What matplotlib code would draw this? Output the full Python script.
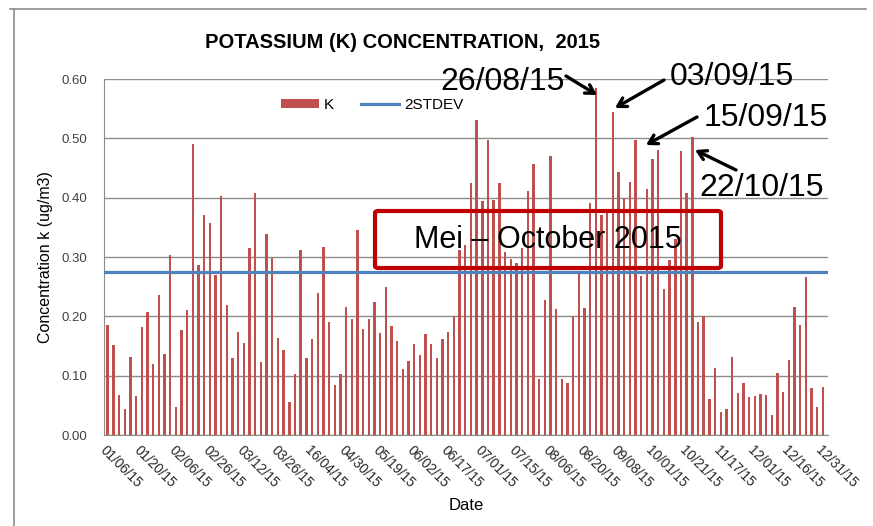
import matplotlib
matplotlib.use("Agg")
import matplotlib.pyplot as plt
from matplotlib.patches import FancyBboxPatch
from matplotlib.lines import Line2D
import numpy as np

plt.rcParams['font.family'] = ['Liberation Sans', 'DejaVu Sans']

# K concentration per sample (ug/m3)
k_values = [
    0.185, 0.152, 0.068, 0.043, 0.131, 0.065, 0.182, 0.208, 0.119, 0.236,
    0.136, 0.304, 0.048, 0.177, 0.210, 0.491, 0.287, 0.371, 0.357, 0.270,
    0.402, 0.219, 0.129, 0.173, 0.155,
    0.315, 0.408, 0.123, 0.339, 0.299, 0.164, 0.144, 0.056, 0.102, 0.311,
    0.130, 0.162, 0.239, 0.317, 0.191, 0.085, 0.103, 0.216, 0.196, 0.346,
    0.179, 0.195, 0.225, 0.172, 0.249,
    0.184, 0.159, 0.112, 0.125, 0.153, 0.134, 0.171, 0.154, 0.129, 0.161,
    0.173, 0.201, 0.311, 0.320, 0.424, 0.531, 0.394, 0.498, 0.396, 0.425,
    0.309, 0.296, 0.290, 0.315, 0.412,
    0.457, 0.095, 0.228, 0.471, 0.213, 0.095, 0.088, 0.201, 0.273, 0.214,
    0.391, 0.585, 0.370, 0.380, 0.544, 0.444, 0.400, 0.426, 0.497, 0.268,
    0.414, 0.466, 0.480, 0.246, 0.295,
    0.330, 0.478, 0.408, 0.503, 0.191, 0.200, 0.061, 0.113, 0.039, 0.043,
    0.131, 0.070, 0.087, 0.064, 0.065, 0.069, 0.068, 0.034, 0.104, 0.073,
    0.126, 0.216, 0.185, 0.267, 0.080, 0.048, 0.081,
]
stdev2 = 0.275

date_labels = ['01/06/15', '01/20/15', '02/06/15', '02/26/15', '03/12/15',
               '03/26/15', '16/04/15', '04/30/15', '05/19/15', '06/02/15',
               '06/17/15', '07/01/15', '07/15/15', '08/06/15', '08/20/15',
               '09/08/15', '10/01/15', '10/21/15', '11/17/15', '12/01/15',
               '12/16/15', '12/31/15']
label_step = 6

W, H = 873, 526


def fx(px):
    return px / W


def fy(py):
    return 1 - py / H


fig = plt.figure(figsize=(W / 100, H / 100), dpi=100)
ax = fig.add_axes([fx(104), fy(435), fx(828) - fx(104), fy(79) - fy(435)])

x = np.arange(len(k_values))
bars = ax.bar(x, k_values, width=0.42, color='#C0504D', label='K', zorder=2)
line = ax.axhline(stdev2, color='#4F81BD', lw=2.3, label='2STDEV', zorder=3)

ax.set_xlim(-0.65, len(k_values) - 0.1)
ax.set_ylim(0, 0.6)
ax.set_yticks(np.arange(0, 0.61, 0.1))
ax.set_yticklabels(['%.2f' % v for v in np.arange(0, 0.61, 0.1)],
                   fontsize=9.5, color='#404040')
ax.yaxis.grid(True, color='#8C8C8C', lw=1, zorder=0)
ax.tick_params(axis='y', length=0, pad=12)

ticks = np.arange(0, len(k_values), label_step)
ax.set_xticks(ticks)
ax.set_xticklabels(date_labels, rotation=-45, ha='left', va='top',
                   rotation_mode='anchor', fontsize=9.8, color='#262626')
ax.tick_params(axis='x', length=0, pad=6)

for side in ['top', 'right']:
    ax.spines[side].set_visible(False)
for side in ['left', 'bottom']:
    ax.spines[side].set_color('#8C8C8C')

ax.set_ylabel('Concentration k (ug/m3)', fontsize=11.5, labelpad=6)
fig.text(fx(466), fy(505), 'Date', fontsize=12, ha='center', va='center')
fig.text(fx(403), fy(43), 'POTASSIUM (K) CONCENTRATION,  2015',
         fontsize=14.5, fontweight='bold', ha='center', va='center')

fig.legend([bars, line], ['K', '2STDEV'], loc='center',
           bbox_to_anchor=(fx(372), fy(105)), ncol=2,
           frameon=False, fontsize=11, handlelength=2.5, handleheight=0.55,
           columnspacing=1.8, handletextpad=0.3)

# frame of the chart area
fig.add_artist(Line2D([fx(10), fx(866)], [fy(9), fy(9)], color='#8C8C8C', lw=1.2))
fig.add_artist(Line2D([fx(14), fx(14)], [fy(9), fy(526)], color='#8C8C8C', lw=1.2))

# period box
box = FancyBboxPatch((fx(375), fy(268)), fx(721) - fx(375), fy(211) - fy(268),
                     boxstyle='round,pad=0,rounding_size=0.004',
                     transform=fig.transFigure, fill=False,
                     edgecolor='#C00000', lw=3, zorder=5)
fig.add_artist(box)
fig.text(fx(548), fy(240), 'Mei \u2013 October 2015', fontsize=22,
         ha='center', va='center')

# date call-outs
arrow = dict(arrowstyle='->,head_length=0.6,head_width=0.35', color='black',
             lw=2.4, shrinkA=0, shrinkB=0)
notes = [
    ('26/08/15', (503, 82), (566, 76), (597, 95)),
    ('03/09/15', (732, 77), (664, 80), (615, 108)),
    ('15/09/15', (766, 118), (697, 117), (646, 145)),
    ('22/10/15', (762, 188), (736, 170), (695, 150)),
]
for text, tpos, start, tip in notes:
    fig.text(fx(tpos[0]), fy(tpos[1]), text, fontsize=23, ha='center',
             va='center')
    ax.annotate('', xy=(fx(tip[0]), fy(tip[1])), xycoords='figure fraction',
                xytext=(fx(start[0]), fy(start[1])), textcoords='figure fraction',
                arrowprops=arrow, annotation_clip=False)

fig.savefig('out.png', dpi=100)
